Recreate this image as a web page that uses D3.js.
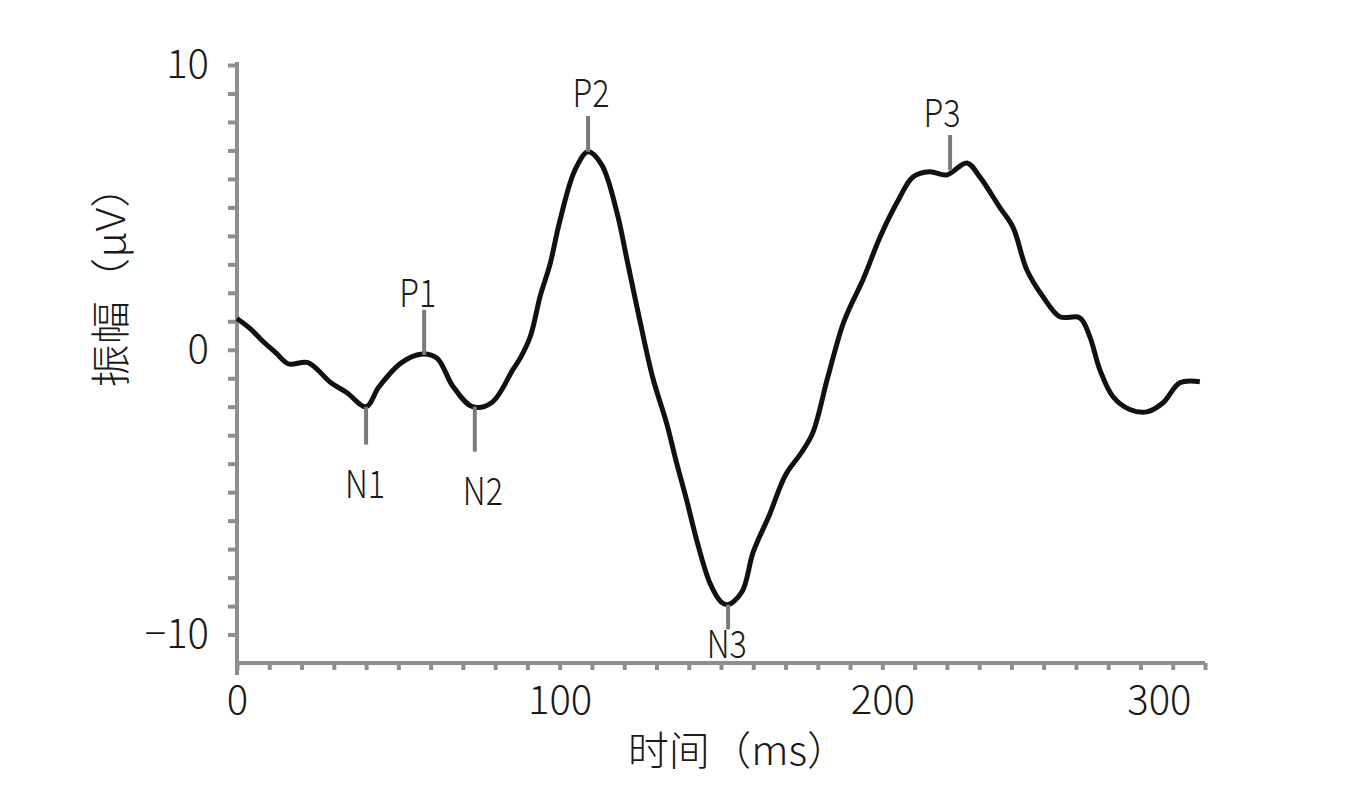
<!DOCTYPE html>
<html>
<head>
<meta charset="utf-8">
<script src="https://cdn.jsdelivr.net/npm/d3@7"></script>
<style>
  html, body { margin: 0; padding: 0; background: #fff; }
  svg text { font-family: "Noto Sans CJK SC", "Noto Sans", sans-serif; font-weight: 300; fill: #1a1a1a; }
</style>
</head>
<body>
<svg id="chart" width="1368" height="795"></svg>
<script>
// ---- data ----
const timeMs = [0, 4, 8, 12, 16, 22, 29, 34, 40, 44, 51, 57.5, 62, 67, 73, 79, 85.5, 88, 91, 94, 97, 100,
  104.7, 108.8, 113, 117.8, 120.8, 124.9, 128.9, 133.2, 136.3, 139.4, 142.5, 146.6, 150, 152.2, 156.5, 160,
  165, 170, 175, 178.5, 183, 187.5, 190, 194, 199.3, 204.5, 209.5, 214.7, 220, 226.2, 230.2, 236.4, 240.5,
  244.8, 249.8, 255, 261.2, 264.3, 267.4, 271.5, 276.7, 282, 287, 292.2, 298.4];
const amplitudeUV = [1.1, 0.75, 0.3, -0.1, -0.5, -0.45, -1.15, -1.5, -2.0, -1.3, -0.45, -0.15, -0.3, -1.3, -2.0, -1.85, -0.7, -0.25, 0.5, 1.9, 3.0, 4.5,
  6.3, 6.95, 6.5, 4.8, 3.2, 1.0, -1.0, -2.6, -4.0, -5.3, -6.7, -8.2, -8.85, -8.95, -8.5, -7.1,
  -5.8, -4.4, -3.6, -2.9, -1.0, 0.8, 1.5, 2.46, 3.96, 5.16, 6.07, 6.25, 6.14, 6.56, 6.07, 5.0, 4.3,
  2.8, 1.86, 1.16, 1.12, 0.46, -0.7, -1.65, -2.1, -2.18, -1.86, -1.16, -1.12];

const peakNames   = ["N1", "P1", "N2", "P2", "N3", "P3"];
const peakTimes   = [40, 58, 73.7, 108.8, 152.2, 221];
const peakAmps    = [-2.0, -0.18, -2.0, 6.95, -8.95, 6.3];
const peakTipAmps = [-3.33, 1.4, -3.58, 8.21, -9.82, 7.54];
const labelTimes  = [39.7, 56, 76.2, 109.7, 151.8, 218.5];
const labelAmps   = [-4.63, 2.07, -4.88, 9.12, -10.25, 8.39];

const xTickValues = d3.range(0, 301, 10);
const xTickLabels = [0, 100, 200, 300];
const yTickValues = d3.range(-10, 11, 1);
const yTickLabels = [-10, 0, 10];
const xTitle = "时间（ms）";
const yTitle = "振幅（μV）";

// ---- layout ----
const svg = d3.select("#chart");
const x = d3.scaleLinear().domain([0, 300]).range([237, 1205]);
const y = d3.scaleLinear().domain([-11, 10]).range([663, 65]);
const axisColor = "#8e8e8e";

function squeeze(sel, f) {
  sel.each(function () {
    const len = this.getComputedTextLength();
    d3.select(this).attr("textLength", len * f).attr("lengthAdjust", "spacingAndGlyphs");
  });
}

// Y axis
const yAxisG = svg.append("g")
  .attr("transform", `translate(${x(0)},0)`)
  .call(d3.axisLeft(y).tickValues(yTickValues).tickSize(9).tickSizeOuter(0).tickPadding(19)
    .tickFormat(d => yTickLabels.includes(d) ? d3.format("d")(d) : ""));
yAxisG.select(".domain").attr("stroke", axisColor).attr("stroke-width", 4)
  .attr("d", `M0,${y(-11) + 12}V${y(10) - 3}`);
yAxisG.selectAll(".tick line").attr("stroke", axisColor).attr("stroke-width", 4);
yAxisG.selectAll(".tick text").attr("font-size", 40).attr("fill", "#1a1a1a");

// X axis
const xAxisG = svg.append("g")
  .attr("transform", `translate(0,${y(-11)})`)
  .call(d3.axisBottom(x).tickValues(xTickValues).tickSize(7).tickSizeOuter(0).tickPadding(16)
    .tickFormat(d => xTickLabels.includes(d) ? d3.format("d")(d) : ""));
xAxisG.select(".domain").attr("stroke", axisColor).attr("stroke-width", 4)
  .attr("d", `M${x(0) - 2},0H${x(300)}`);
xAxisG.selectAll(".tick line").attr("stroke", axisColor).attr("stroke-width", 4);
xAxisG.selectAll(".tick text").attr("font-size", 40).attr("fill", "#1a1a1a");
xAxisG.selectAll(".tick text").filter(d => d === 300).attr("text-anchor", "end").attr("dx", "-0.35em");

// Waveform
const data = timeMs.map((t, i) => ({ t, v: amplitudeUV[i] }));
svg.append("path")
  .datum(data)
  .attr("fill", "none")
  .attr("stroke", "#111")
  .attr("stroke-width", 5)
  .attr("stroke-linejoin", "round")
  .attr("d", d3.line().x(d => x(d.t)).y(d => y(d.v)).curve(d3.curveCatmullRom.alpha(0.5)));

// Peak markers
const peaks = peakNames.map((n, i) => ({
  name: n, t: peakTimes[i], v: peakAmps[i], tip: peakTipAmps[i], lt: labelTimes[i], lv: labelAmps[i]
}));
svg.append("g").selectAll("line").data(peaks).join("line")
  .attr("x1", d => x(d.t)).attr("x2", d => x(d.t))
  .attr("y1", d => y(d.v)).attr("y2", d => y(d.tip))
  .attr("stroke", "#7a7a7a").attr("stroke-width", 4);
svg.append("g").selectAll("text").data(peaks).join("text")
  .attr("x", d => x(d.lt)).attr("y", d => y(d.lv))
  .attr("text-anchor", "middle").attr("dominant-baseline", "central")
  .attr("font-size", 38)
  .text(d => d.name)
  .call(squeeze, 0.85);

// Axis titles
svg.append("text")
  .attr("x", 738).attr("y", 748)
  .attr("text-anchor", "middle").attr("dominant-baseline", "central")
  .attr("font-size", 40)
  .text(xTitle)
  .call(squeeze, 1.03);
svg.append("text")
  .attr("transform", "translate(108,276) rotate(-90)")
  .attr("text-anchor", "middle").attr("dominant-baseline", "central")
  .attr("font-size", 40)
  .text(yTitle)
  .call(squeeze, 1.08);
</script>
</body>
</html>
